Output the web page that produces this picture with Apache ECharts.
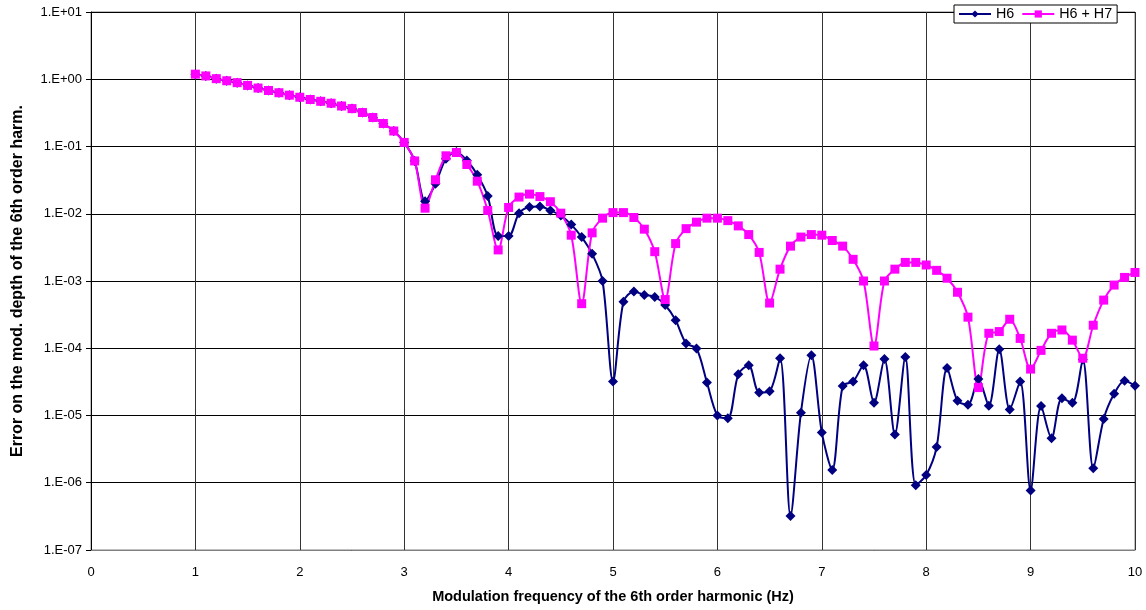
<!DOCTYPE html>
<html>
<head>
<meta charset="utf-8">
<script src="https://cdn.jsdelivr.net/npm/echarts@6/dist/echarts.min.js"></script>
<style>
  html, body { margin: 0; padding: 0; background: #fff; }
  #chart { width: 1146px; height: 610px; }
</style>
</head>
<body>
<div id="chart"></div>
<script>
// modulation frequency (Hz)
var freq = [
  1.0, 1.1, 1.2, 1.3, 1.4, 1.5, 1.6, 1.7, 1.8, 1.9,
  2.0, 2.1, 2.2, 2.3, 2.4, 2.5, 2.6, 2.7, 2.8, 2.9,
  3.0, 3.1, 3.2, 3.3, 3.4, 3.5, 3.6, 3.7, 3.8, 3.9,
  4.0, 4.1, 4.2, 4.3, 4.4, 4.5, 4.6, 4.7, 4.8, 4.9,
  5.0, 5.1, 5.2, 5.3, 5.4, 5.5, 5.6, 5.7, 5.8, 5.9,
  6.0, 6.1, 6.2, 6.3, 6.4, 6.5, 6.6, 6.7, 6.8, 6.9,
  7.0, 7.1, 7.2, 7.3, 7.4, 7.5, 7.6, 7.7, 7.8, 7.9,
  8.0, 8.1, 8.2, 8.3, 8.4, 8.5, 8.6, 8.7, 8.8, 8.9,
  9.0, 9.1, 9.2, 9.3, 9.4, 9.5, 9.6, 9.7, 9.8, 9.9,
  10.0
];

// error, H6 only
var h6 = [
  1.19, 1.12, 1.02, 0.95, 0.89, 0.81, 0.74, 0.68, 0.63, 0.58,
  0.54, 0.50, 0.47, 0.44, 0.40, 0.366, 0.32, 0.27, 0.22, 0.17,
  0.115, 0.061, 0.0154, 0.0279, 0.0656, 0.083, 0.062, 0.038, 0.0183, 0.00465,
  0.00465, 0.0102, 0.0126, 0.0128, 0.0112, 0.0094, 0.0069, 0.0045, 0.00254, 0.0010,
  3.2e-5, 4.9e-4, 7.0e-4, 6.2e-4, 5.8e-4, 4.4e-4, 2.6e-4, 1.18e-4, 9.9e-5, 3.1e-5,
  1.0e-5, 9.1e-6, 4.1e-5, 5.6e-5, 2.2e-5, 2.3e-5, 7.1e-5, 3.2e-7, 1.1e-5, 7.9e-5,
  5.6e-6, 1.55e-6, 2.75e-5, 3.2e-5, 5.6e-5, 1.55e-5, 6.9e-5, 5.2e-6, 7.4e-5, 9.2e-7,
  1.3e-6, 3.4e-6, 5.1e-5, 1.65e-5, 1.45e-5, 3.5e-5, 1.4e-5, 9.7e-5, 1.23e-5, 3.2e-5,
  7.7e-7, 1.38e-5, 4.6e-6, 1.8e-5, 1.55e-5, 6.8e-5, 1.64e-6, 8.9e-6, 2.1e-5, 3.3e-5,
  2.76e-5
];

// error, H6 + H7
var h6h7 = [
  1.19, 1.12, 1.02, 0.95, 0.89, 0.81, 0.74, 0.68, 0.63, 0.58,
  0.54, 0.50, 0.47, 0.44, 0.40, 0.366, 0.32, 0.27, 0.22, 0.17,
  0.115, 0.061, 0.0121, 0.032, 0.0727, 0.0815, 0.054, 0.0305, 0.0112, 0.0029,
  0.0124, 0.0177, 0.0196, 0.018, 0.0151, 0.0102, 0.0048, 0.00046, 0.0052, 0.0086,
  0.0104, 0.0104, 0.0088, 0.0059, 0.00273, 0.00053, 0.0036, 0.0060, 0.0075, 0.0086,
  0.0086, 0.0079, 0.0066, 0.0049, 0.00266, 0.00047, 0.0015, 0.0033, 0.0045, 0.0049,
  0.0048, 0.0040, 0.0033, 0.0021, 0.0010, 0.000108, 0.0010, 0.0015, 0.00189, 0.00189,
  0.00173, 0.00144, 0.0011, 0.00068, 0.00029, 0.000026, 0.000167, 0.000177, 0.00027, 0.00014,
  0.000049, 0.000093, 0.000167, 0.000187, 0.000132, 0.000071, 0.00022, 0.00052, 0.00087, 0.00113,
  0.00134
];

var yTickLabels = ['1.E-07', '1.E-06', '1.E-05', '1.E-04', '1.E-03', '1.E-02', '1.E-01', '1.E+00', '1.E+01'];

function pairs(ys) {
  var out = [];
  for (var i = 0; i < freq.length; i++) {
    out.push([freq[i], ys[i]]);
  }
  return out;
}

var chart = echarts.init(document.getElementById('chart'));
var font = 'Liberation Sans, Arial, sans-serif';

var option = {
  animation: false,
  backgroundColor: '#fff',
  textStyle: { fontFamily: font, color: '#000' },
  grid: {
    left: 91, right: 11, top: 12, bottom: 60,
    outerBoundsMode: 'none',
    containLabel: false,
    show: true, borderColor: '#808080', borderWidth: 1
  },
  legend: {
    left: 954, top: 5,
    backgroundColor: '#fff',
    borderColor: '#000', borderWidth: 1,
    padding: [2, 5, 2, 4],
    itemGap: 7, itemWidth: 32, itemHeight: 9,
    textStyle: { fontFamily: font, fontSize: 14.3, color: '#000' },
    data: ['H6', 'H6 + H7']
  },
  xAxis: {
    type: 'value', min: 0, max: 10, interval: 1,
    name: 'Modulation frequency of the 6th order harmonic (Hz)',
    nameLocation: 'middle', nameGap: 39,
    nameTextStyle: { fontFamily: font, fontSize: 14.5, fontWeight: 'bold', color: '#000' },
    axisLine: { show: true, onZero: false, lineStyle: { color: '#808080', width: 1 } },
    axisTick: { show: false },
    axisLabel: { margin: 16, fontFamily: font, fontSize: 13, color: '#000' },
    splitLine: { show: true, lineStyle: { color: '#333', width: 1 } }
  },
  yAxis: {
    type: 'log', logBase: 10, min: 1e-7, max: 10, splitNumber: 8,
    name: 'Error on the mod. depth of the 6th order harm.',
    nameLocation: 'middle', nameGap: 65,
    nameTextStyle: { fontFamily: font, fontSize: 16, fontWeight: 'bold', color: '#000' },
    axisLine: { show: true, lineStyle: { color: '#000', width: 1 } },
    axisTick: { show: true, inside: false, length: 5, lineStyle: { color: '#000' } },
    axisLabel: {
      margin: 9, fontFamily: font, fontSize: 13, color: '#000',
      formatter: function (v) {
        var e = Math.round(Math.log10(v));
        return yTickLabels[e + 7];
      }
    },
    splitLine: { show: true, lineStyle: { color: '#000', width: 1 } }
  },
  series: [
    {
      name: 'H6', type: 'line', smooth: 0.3,
      data: pairs(h6),
      symbol: 'diamond', symbolSize: 10,
      itemStyle: { color: '#000080' },
      lineStyle: { color: '#000080', width: 2 }
    },
    {
      name: 'H6 + H7', type: 'line', smooth: 0.3,
      data: pairs(h6h7),
      symbol: 'rect', symbolSize: 9,
      itemStyle: { color: '#ff00ff' },
      lineStyle: { color: '#ff00ff', width: 2 }
    }
  ]
};

chart.setOption(option);
</script>
</body>
</html>
